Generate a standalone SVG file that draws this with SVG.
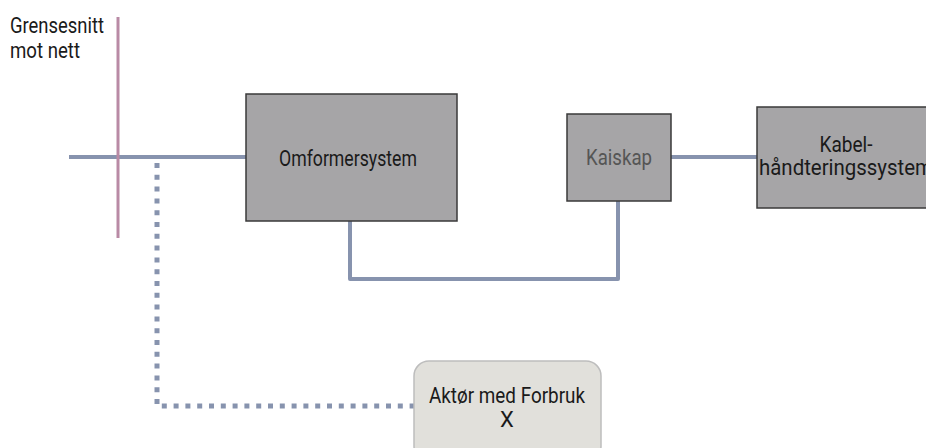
<svg xmlns="http://www.w3.org/2000/svg" width="926" height="448" viewBox="0 0 926 448">
<style>
.box{fill:#a6a5a7;stroke:#3a3a3a;stroke-width:1.5}
.soft{fill:#e1e0db;stroke:#bdbdbd;stroke-width:1.5}
.t{font-family:Roboto,"Liberation Sans",sans-serif;font-size:22px;fill:#1a1a1a;text-anchor:middle}
.lbl{font-family:Roboto,"Liberation Sans",sans-serif;font-size:22px;fill:#1a1a1a}
.c{fill:none;stroke:#8793ae;stroke-width:4;stroke-linejoin:round}
.d{fill:none;stroke:#8793ae;stroke-width:5;stroke-dasharray:5 6.8}
</style>
<rect width="926" height="448" fill="#ffffff"/>
<g id="connectors">
<line x1="69" y1="157" x2="246" y2="157" class="c"/>
<line x1="671" y1="157" x2="757" y2="157" class="c"/>
<path d="M350 221 V279 H618 V201" class="c"/>
<path d="M157 163 V406 H414" class="d"/>
</g>
<g id="grensesnitt">
<line x1="118" y1="17" x2="118" y2="238" stroke="#b98aa5" stroke-width="3"/>
<text class="lbl" x="10" y="33" textLength="94" lengthAdjust="spacingAndGlyphs">Grensesnitt</text>
<text class="lbl" x="10" y="58" textLength="70" lengthAdjust="spacingAndGlyphs">mot nett</text>
</g>
<g id="omformersystem">
<rect class="box" x="246" y="94" width="211" height="127"/>
<text class="t" x="348" y="166" textLength="138" lengthAdjust="spacingAndGlyphs">Omformersystem</text>
</g>
<g id="kaiskap">
<rect class="box" x="567" y="114" width="104" height="87"/>
<text class="t" x="619" y="165" textLength="66" lengthAdjust="spacingAndGlyphs" style="fill:#555555">Kaiskap</text>
</g>
<g id="kabel">
<rect class="box" x="757" y="107" width="170" height="101"/>
<text class="t" x="846" y="152" textLength="53" lengthAdjust="spacingAndGlyphs">Kabel-</text>
<text class="t" x="846" y="175" textLength="174" lengthAdjust="spacingAndGlyphs">håndteringssystem</text>
</g>
<g id="aktor">
<rect class="soft" x="414" y="361" width="187" height="100" rx="15"/>
<text class="t" x="507" y="403" textLength="156" lengthAdjust="spacingAndGlyphs">Aktør med Forbruk</text>
<text class="t" x="507" y="427">X</text>
</g>
</svg>
